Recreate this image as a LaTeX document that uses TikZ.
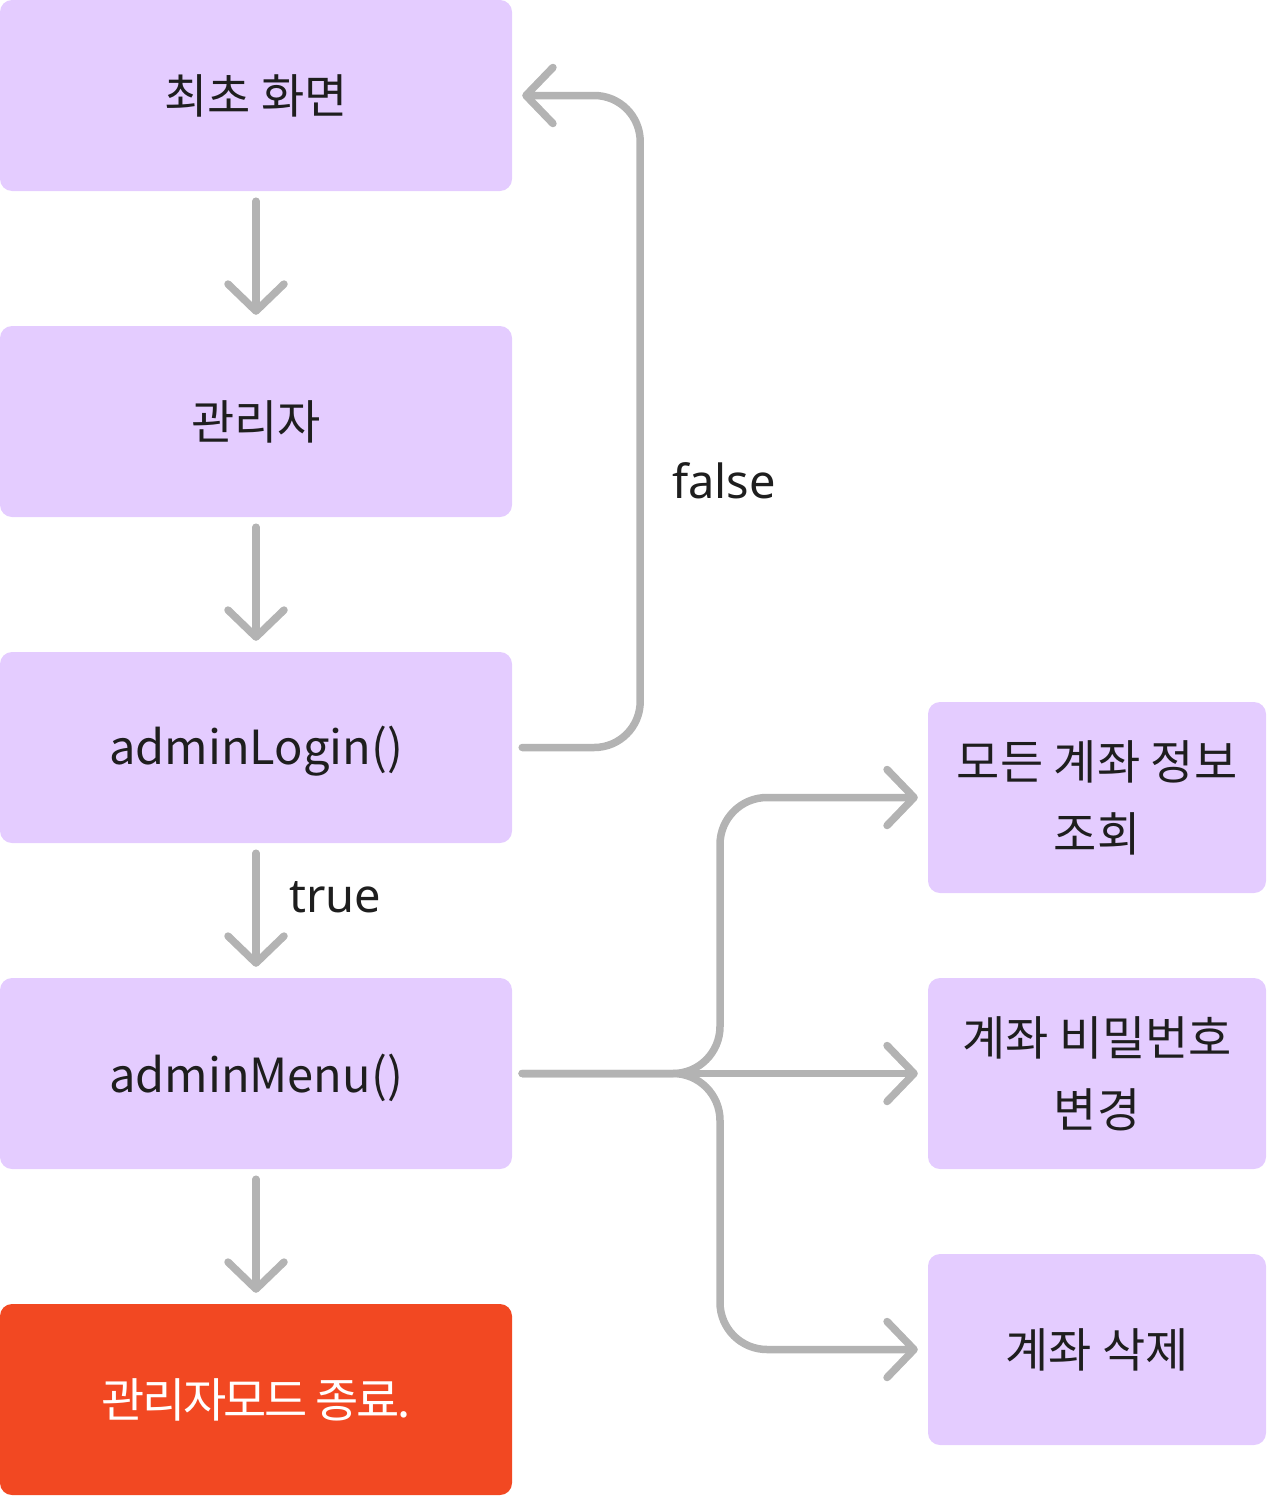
\documentclass[tikz,border=0pt]{standalone}
\usepackage{fontspec}
\setmainfont{Noto Sans}
\newfontfamily\kr{Noto Sans CJK KR}
\newfontfamily\krtight[LetterSpace=-5.5]{Noto Sans CJK KR}
\usetikzlibrary{arrows.meta}
\definecolor{boxfill}{HTML}{E4CCFF}
\definecolor{endfill}{HTML}{F24822}
\definecolor{linec}{HTML}{B3B3B3}
\definecolor{textc}{HTML}{1E1E1E}
\newcommand{\lat}[1]{\raisebox{-4pt}[\height][\depth]{\fontsize{47}{56}\selectfont #1}}
\begin{document}
\begin{tikzpicture}[x=1pt,y=-1pt,
  box/.style={fill=boxfill, rounded corners=12pt, minimum width=512pt, minimum height=191pt,
    inner sep=0pt, align=center, text=textc, font=\fontsize{47}{72}\selectfont\kr},
  endbox/.style={box, fill=endfill, text=white, font=\fontsize{47}{72}\selectfont\krtight},
  rbox/.style={box, minimum width=338pt},
  arr/.style={draw=linec, line width=7.5pt, line cap=round, line join=round,
    -{Straight Barb[length=27pt,width=56pt,line cap=round,line join=round]}},
  lbl/.style={text=textc, inner sep=0pt, font=\fontsize{47}{56}\selectfont}]
\useasboundingbox (0,0) rectangle (1266,1496);
\node[box] (b1) at (256,95.5) {최초 화면};
\node[box] (b2) at (256,421.5) {관리자};
\node[box] (b3) at (256,747.5) {\lat{adminLogin()}};
\node[box] (b4) at (256,1073.5) {\lat{adminMenu()}};
\node[endbox] (b5) at (256,1399.5) {관리자모드 종료.};
\node[rbox] (r1) at (1097,797.5) {모든 계좌 정보\\조회};
\node[rbox] (r2) at (1097,1073.5) {계좌 비밀번호\\변경};
\node[rbox] (r3) at (1097,1349.5) {계좌 삭제};
\draw[arr] ([yshift=-10pt]b1.south) -- ([yshift=11pt]b2.north);
\draw[arr] ([yshift=-10pt]b2.south) -- ([yshift=11pt]b3.north);
\draw[arr] ([yshift=-10pt]b3.south) -- ([yshift=11pt]b4.north);
\draw[arr] ([yshift=-10pt]b4.south) -- ([yshift=11pt]b5.north);
\node[lbl, anchor=west] (tl) at (289,897) {true};
\draw[arr, rounded corners=46pt] ([xshift=10pt]b3.east) -- ++(118,0) |- ([xshift=10pt]b1.east);
\node[lbl, anchor=west] (fl) at (672,481) {false};
\coordinate (bx) at (720,1073.5);
\draw[arr] ([xshift=10pt]b4.east) -- ([xshift=-10pt]r2.west);
\draw[arr, rounded corners=47pt] ([xshift=10pt]b4.east) -- (bx) |- ([xshift=-10pt]r1.west);
\draw[arr, rounded corners=47pt] ([xshift=10pt]b4.east) -- (bx) |- ([xshift=-10pt]r3.west);
\end{tikzpicture}
\end{document}
